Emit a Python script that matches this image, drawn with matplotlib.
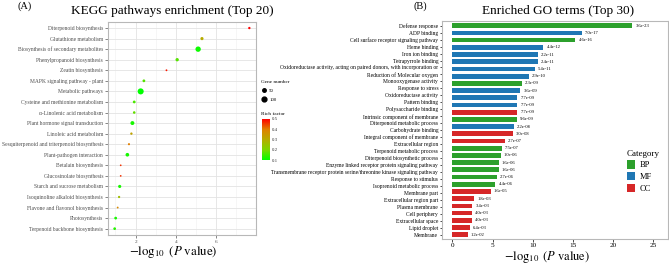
import numpy as np
import matplotlib
matplotlib.use('Agg')
import matplotlib.pyplot as plt
from matplotlib.colors import LinearSegmentedColormap, Normalize
from matplotlib.cm import ScalarMappable
from matplotlib.patches import Patch
from matplotlib.lines import Line2D

plt.rcParams['font.family'] = ['Liberation Serif', 'DejaVu Serif']
plt.rcParams['mathtext.fontset'] = 'stix'

# ---------------- KEGG data (panel A) ----------------
kegg_pathways = [
    "Diterpenoid biosynthesis",
    "Glutathione metabolism",
    "Biosynthesis of secondary metabolites",
    "Phenylpropanoid biosynthesis",
    "Zeatin biosynthesis",
    "MAPK signaling pathway - plant",
    "Metabolic pathways",
    "Cysteine and methionine metabolism",
    "\u03b1-Linolenic acid metabolism",
    "Plant hormone signal transduction",
    "Linoleic acid metabolism",
    "Sesquiterpenoid and triterpenoid biosynthesis",
    "Plant-pathogen interaction",
    "Betalain biosynthesis",
    "Glucosinolate biosynthesis",
    "Starch and sucrose metabolism",
    "Isoquinoline alkaloid biosynthesis",
    "Flavone and flavonol biosynthesis",
    "Photosynthesis",
    "Terpenoid backbone biosynthesis",
]
kegg_logp = [7.64, 5.29, 5.10, 4.06, 3.53, 2.41, 2.25, 1.93, 1.93, 1.84,
             1.79, 1.67, 1.59, 1.26, 1.26, 1.21, 1.18, 1.11, 1.01, 0.96]
kegg_gene_number = [20, 40, 125, 45, 10, 30, 160, 30, 25, 65,
                    20, 15, 55, 8, 8, 40, 18, 10, 30, 28]
kegg_rich_factor = [0.50, 0.30, 0.11, 0.17, 0.48, 0.17, 0.10, 0.16, 0.18, 0.12,
                    0.32, 0.40, 0.12, 0.46, 0.46, 0.12, 0.26, 0.38, 0.12, 0.13]
gene_legend_values = [50, 100]
rich_ticks = [0.1, 0.2, 0.3, 0.4, 0.5]

# ---------------- GO data (panel B) ----------------
go_labels = [
    "Defense response",
    "ADP binding",
    "Cell surface receptor signaling pathway",
    "Heme binding",
    "Iron ion binding",
    "Tetrapyrrole binding",
    "Oxidoreductase activity, acting on paired donors, with incorporation or",
    "Reduction of Molecular oxygen",
    "Monooxygenase activity",
    "Response to stress",
    "Oxidoreductase activity",
    "Pattern binding",
    "Polysaccharide binding",
    "Intrinsic component of membrane",
    "Diterpenoid metabolic process",
    "Carbohydrate binding",
    "Integral component of membrane",
    "Extracellular region",
    "Terpenoid metabolic process",
    "Diterpenoid biosynthetic process",
    "Enzyme linked receptor protein signaling pathway",
    "Transmembrane receptor protein serine/threonine kinase signaling pathway",
    "Response to stimulus",
    "Isoprenoid metabolic process",
    "Membrane part",
    "Extracellular region part",
    "Plasma membrane",
    "Cell periphery",
    "Extracellular space",
    "Lipid droplet",
    "Membrane",
]
go_pvalue_labels = ["3.6e-23", "7.0e-17", "4.6e-16", "4.4e-12", "2.2e-11", "2.4e-11",
                    "5.4e-11", "2.9e-10", "2.3e-09", "3.6e-09", "7.7e-09", "7.7e-09",
                    "7.7e-09", "9.6e-09", "2.2e-08", "3.0e-08", "2.7e-07", "7.5e-07",
                    "1.0e-06", "1.6e-06", "1.6e-06", "2.7e-06", "4.4e-06", "1.6e-05",
                    "1.8e-03", "3.4e-03", "4.0e-03", "4.0e-03", "6.4e-03", "1.2e-02"]
go_categories = ["BP", "MF", "BP", "MF", "MF", "MF", "MF", "MF", "BP", "MF",
                 "MF", "MF", "CC", "BP", "MF", "CC", "CC", "BP", "BP", "BP",
                 "BP", "BP", "BP", "CC", "CC", "CC", "CC", "CC", "CC", "CC"]
category_order = ["BP", "MF", "CC"]
category_colors = {"BP": "#2ca02c", "MF": "#1f77b4", "CC": "#d62728"}

W, H = 669, 265
fig = plt.figure(figsize=(W / 100, H / 100), dpi=100)


def fx(px):
    return px / W


def fy(py):
    return 1 - py / H


# ---------------- Panel A ----------------
cmap = LinearSegmentedColormap.from_list(
    'rich', ['#00FF00', '#7CD600', '#B6AC00', '#E08000', '#FF0000'])
norm = Normalize(0.1, 0.5)


def size_of(g):
    return 0.115 * np.asarray(g, dtype=float) + 0.6


axA = fig.add_axes([fx(108), fy(235), fx(256) - fx(108), fy(21.7) - fy(235)])
yA = np.arange(len(kegg_pathways))
axA.scatter(kegg_logp, yA, s=size_of(kegg_gene_number), c=kegg_rich_factor,
            cmap=cmap, norm=norm, linewidths=0, zorder=3)
axA.set_ylim(len(kegg_pathways) - 1 + 0.6, -0.6)
axA.set_xlim(0.63, 7.97)
axA.set_yticks(yA)
axA.set_yticklabels(kegg_pathways, fontsize=4.0, color='#4d4d4d')
axA.set_xticks([2, 4, 6])
axA.set_xticks([1, 3, 5, 7], minor=True)
axA.tick_params(axis='x', which='major', labelsize=3.8, labelcolor='#4d4d4d')
axA.grid(which='major', color='#e3e3e3', lw=0.6)
axA.grid(which='minor', axis='x', color='#efefef', lw=0.4)
axA.set_axisbelow(True)
for sp in axA.spines.values():
    sp.set_color('#b8b8b8')
    sp.set_linewidth(0.8)
axA.tick_params(which='major', length=2, width=0.5, color='#555555', pad=1.5)
axA.tick_params(which='minor', length=0)

fig.text(fx(173), fy(252), r'$-\log_{10}\ (P\ \mathrm{value})$', fontsize=9.3,
         ha='center', va='center')
fig.text(fx(172), fy(11), 'KEGG pathways enrichment (Top 20)', fontsize=9.5,
         ha='center', va='center')
fig.text(fx(17), fy(6), '(A)', fontsize=7.5, ha='left', va='center')

# gene number legend
handles = [Line2D([], [], ls='', marker='o', color='black',
                  markersize=np.sqrt(size_of(v))) for v in gene_legend_values]
leg = fig.legend(handles, [str(v) for v in gene_legend_values], title='Gene number',
                 loc='upper left', bbox_to_anchor=(fx(258), fy(77)),
                 frameon=False, fontsize=3.5, title_fontsize=3.8,
                 handletextpad=0.6, labelspacing=0.9, borderpad=0.2,
                 handlelength=1.0, alignment='left')

# rich factor colorbar
fig.text(fx(261), fy(114), 'Rich factor', fontsize=3.8, ha='left', va='center')
cax = fig.add_axes([fx(262), fy(160), fx(8), fy(0) - fy(41)])
cb = fig.colorbar(ScalarMappable(norm=norm, cmap=cmap), cax=cax)
cb.set_ticks(rich_ticks)
cb.ax.tick_params(labelsize=3.5, length=0, pad=1.5, labelcolor='#333333')
cb.outline.set_visible(False)

# ---------------- Panel B ----------------
axB = fig.add_axes([fx(441.7), fy(238.7), fx(668) - fx(441.7), fy(20.7) - fy(238.7)])
go_values = -np.log10([float(p) for p in go_pvalue_labels])
yB = np.arange(len(go_values))
axB.barh(yB, go_values, height=0.66,
         color=[category_colors[c] for c in go_categories], zorder=3)
for yi, v, lab in zip(yB, go_values, go_pvalue_labels):
    axB.text(v + 0.4, yi, lab, fontsize=3.3, va='center', ha='left')
axB.set_ylim(len(go_values) - 1 + 0.55, -0.69)
axB.set_xlim(-1.34, 26.9)
axB.set_yticks(np.linspace(0, len(go_values) - 1, len(go_labels)))
axB.set_yticklabels(go_labels, fontsize=4.0)
axB.set_xticks([0, 5, 10, 15, 20, 25])
axB.tick_params(axis='x', labelsize=5.2, length=2, width=0.5, pad=1.2)
axB.tick_params(axis='y', length=1.5, width=0.5, pad=1)
for sp in axB.spines.values():
    sp.set_color('#b8b8b8')
    sp.set_linewidth(0.8)

fig.text(fx(547), fy(257), r'$-\log_{10}\ (P\ \mathrm{value})$', fontsize=9.0,
         ha='center', va='center')
fig.text(fx(558), fy(11), 'Enriched GO terms (Top 30)', fontsize=9.5,
         ha='center', va='center')
fig.text(fx(413), fy(6), '(B)', fontsize=7.5, ha='left', va='center')

cat_handles = [Patch(facecolor=category_colors[c], edgecolor='none') for c in category_order]
fig.legend(cat_handles, category_order, title='Category', loc='upper left',
           bbox_to_anchor=(fx(621), fy(144)), frameon=False, fontsize=6,
           title_fontsize=6.5, handlelength=1.0, handleheight=1.2,
           handletextpad=0.5, labelspacing=0.3, borderpad=0.2, alignment='left')

fig.savefig('out.png', dpi=100)
